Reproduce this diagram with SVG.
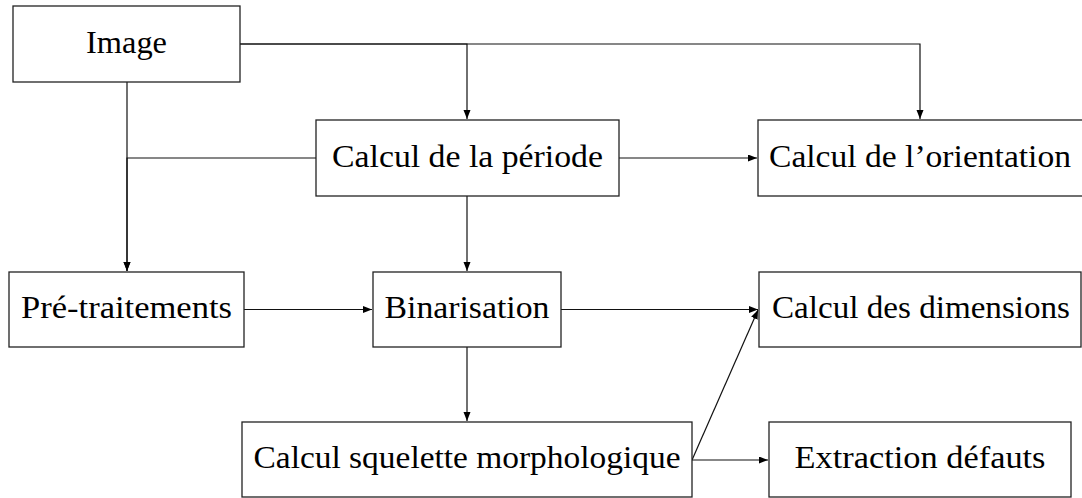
<svg xmlns="http://www.w3.org/2000/svg" width="1082" height="498" viewBox="0 0 1082 498">
<style>
.box{fill:#fff;stroke:#222;stroke-width:1.3}
.lbl{font-family:"Liberation Serif","Times New Roman",serif;font-size:32px;fill:#000;text-anchor:middle}
.edge{fill:none;stroke:#111;stroke-width:1.2}
</style>
<defs>
<marker id="arr" markerUnits="userSpaceOnUse" markerWidth="10" markerHeight="8" refX="9" refY="3.5" orient="auto">
<path d="M0,0 L9,3.5 L0,7 z" fill="#000"/>
</marker>
</defs>
<rect width="1082" height="498" fill="#fff"/>
<g id="connectors">
<path class="edge" d="M127,82 V271" marker-end="url(#arr)"/>
<path class="edge" d="M316,158 H127 V271" marker-end="url(#arr)"/>
<path class="edge" d="M240,44 H467 V119" marker-end="url(#arr)"/>
<path class="edge" d="M240,44 H920 V119" marker-end="url(#arr)"/>
<path class="edge" d="M619,158 H757" marker-end="url(#arr)"/>
<path class="edge" d="M467,196 V271" marker-end="url(#arr)"/>
<path class="edge" d="M244,309.5 H372" marker-end="url(#arr)"/>
<path class="edge" d="M467,347 V421" marker-end="url(#arr)"/>
<path class="edge" d="M561,309.5 H758" marker-end="url(#arr)"/>
<path class="edge" d="M692,460 L758,310" marker-end="url(#arr)"/>
<path class="edge" d="M692,460 H768" marker-end="url(#arr)"/>
</g>
<g id="image">
<rect class="box" x="13" y="6" width="227" height="76"/>
<text class="lbl" x="126.5" y="52.5" textLength="81" lengthAdjust="spacingAndGlyphs">Image</text>
</g>
<g id="periode">
<rect class="box" x="316" y="120" width="303" height="76"/>
<text class="lbl" x="467.5" y="166.5" textLength="271" lengthAdjust="spacingAndGlyphs">Calcul de la période</text>
</g>
<g id="orientation">
<rect class="box" x="758" y="120" width="330" height="76"/>
<text class="lbl" x="920" y="166.5" textLength="302" lengthAdjust="spacingAndGlyphs">Calcul de l’orientation</text>
</g>
<g id="pretraitements">
<rect class="box" x="9" y="272" width="235" height="75"/>
<text class="lbl" x="126.5" y="318" textLength="211" lengthAdjust="spacingAndGlyphs">Pré-traitements</text>
</g>
<g id="binarisation">
<rect class="box" x="373" y="272" width="188" height="75"/>
<text class="lbl" x="467" y="318" textLength="165" lengthAdjust="spacingAndGlyphs">Binarisation</text>
</g>
<g id="dimensions">
<rect class="box" x="759" y="272" width="322" height="75"/>
<text class="lbl" x="921" y="318" textLength="298" lengthAdjust="spacingAndGlyphs">Calcul des dimensions</text>
</g>
<g id="squelette">
<rect class="box" x="242" y="422" width="450" height="75"/>
<text class="lbl" x="467" y="468" textLength="427" lengthAdjust="spacingAndGlyphs">Calcul squelette morphologique</text>
</g>
<g id="extraction">
<rect class="box" x="769" y="422" width="302" height="75"/>
<text class="lbl" x="920" y="468" textLength="251" lengthAdjust="spacingAndGlyphs">Extraction défauts</text>
</g>
</svg>
